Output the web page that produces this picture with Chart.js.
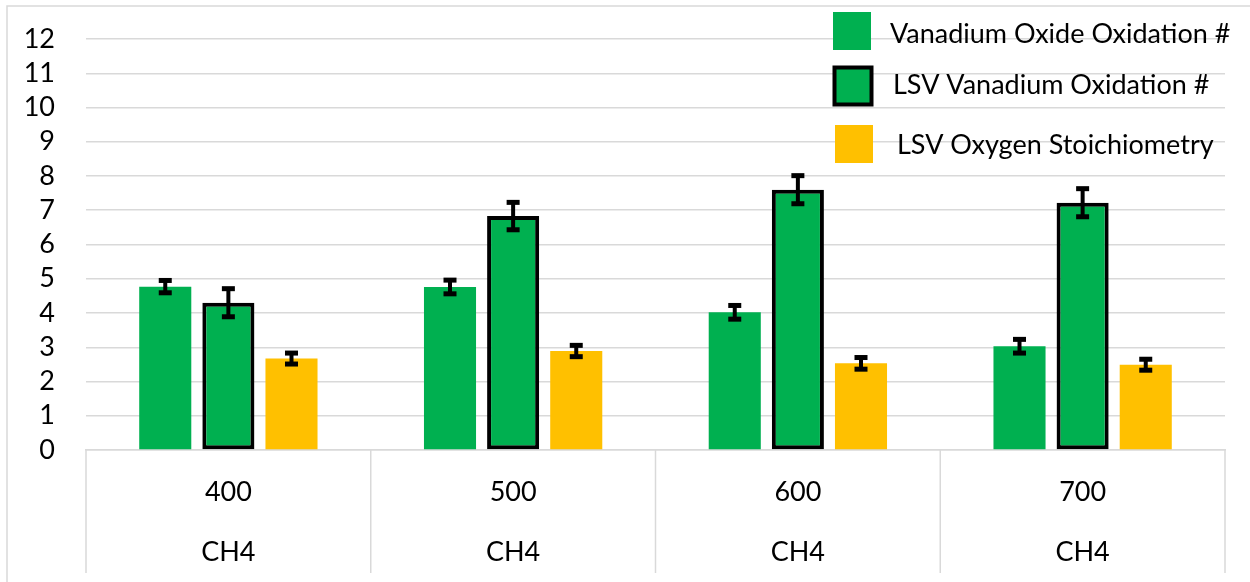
<!DOCTYPE html>
<html lang="en">
<head>
    <meta charset="UTF-8">
    <title>Vanadium oxidation</title>
    <script src="https://cdn.jsdelivr.net/npm/chart.js"></script>
    <style>
        body {
            margin: 0;
            background-color: #ffffff;
        }
        .chart-box {
            width: 1250px;
            height: 582px;
            position: relative;
        }
    </style>
</head>
<body>

    <div class="chart-box">
        <canvas id="myChart"></canvas>
    </div>

    <script>
        // Данные графика
        const temperatures = ['400', '500', '600', '700'];
        const gases = ['CH4', 'CH4', 'CH4', 'CH4'];
        const yTicks = [0, 1, 2, 3, 4, 5, 6, 7, 8, 9, 10, 11, 12];

        const seriesNames = ['Vanadium Oxide Oxidation #', 'LSV Vanadium Oxidation #', 'LSV Oxygen Stoichiometry'];
        const oxideOxidation = [4.77, 4.76, 4.02, 3.03];
        const oxideOxidationErr = [0.18, 0.20, 0.20, 0.20];
        const lsvOxidation = [4.30, 6.83, 7.60, 7.22];
        const lsvOxidationErr = [0.41, 0.40, 0.41, 0.41];
        const lsvOxygen = [2.67, 2.89, 2.53, 2.49];
        const lsvOxygenErr = [0.16, 0.165, 0.17, 0.16];

        const fontFamily = 'Lato, "Open Sans", sans-serif';
        const gridColor = '#D9D9D9';

        // Рамка, разделители категорий, планки погрешностей и легенда
        const extrasPlugin = {
            id: 'extras',
            beforeDraw(chart) {
                const ctx = chart.ctx;
                ctx.save();
                ctx.strokeStyle = gridColor;
                ctx.lineWidth = 1.5;
                ctx.beginPath();
                ctx.moveTo(7, chart.height + 5);
                ctx.lineTo(7, 6);
                ctx.lineTo(chart.width + 5, 6);
                ctx.stroke();
                ctx.restore();
            },
            afterDatasetsDraw(chart) {
                const ctx = chart.ctx;
                const y = chart.scales.y;
                ctx.save();
                ctx.fillStyle = '#000';
                ctx.strokeStyle = '#000';
                chart.data.datasets.forEach((ds, i) => {
                    const meta = chart.getDatasetMeta(i);
                    meta.data.forEach((bar, j) => {
                        const v = ds.data[j];
                        const e = ds.errors[j];
                        const top = y.getPixelForValue(v + e);
                        const bottom = y.getPixelForValue(v - e);
                        ctx.lineWidth = 4;
                        ctx.beginPath();
                        ctx.moveTo(bar.x, top);
                        ctx.lineTo(bar.x, bottom);
                        ctx.stroke();
                        ctx.fillRect(bar.x - 6.5, top - 2.5, 13, 5);
                        ctx.fillRect(bar.x - 6.5, bottom - 2.5, 13, 5);
                    });
                });
                ctx.restore();
            },
            afterDraw(chart) {
                const ctx = chart.ctx;
                const area = chart.chartArea;
                const n = chart.data.labels.length;
                const w = area.width / n;

                // вертикальные разделители под осью
                ctx.save();
                ctx.strokeStyle = gridColor;
                ctx.lineWidth = 1.5;
                for (let i = 0; i <= n; i++) {
                    const x = area.left + i * w;
                    ctx.beginPath();
                    ctx.moveTo(x, area.bottom);
                    ctx.lineTo(x, 573);
                    ctx.stroke();
                }

                // легенда
                const rows = [
                    { boxX: 833, boxY: 12, textX: 890, textY: 34 },
                    { boxX: 834, boxY: 67, textX: 893, textY: 85 },
                    { boxX: 835, boxY: 125, textX: 897, textY: 145 }
                ];
                ctx.font = '27px ' + fontFamily;
                ctx.textBaseline = 'middle';
                ctx.textAlign = 'left';
                chart.data.datasets.forEach((ds, i) => {
                    const r = rows[i];
                    ctx.fillStyle = ds.backgroundColor;
                    ctx.fillRect(r.boxX, r.boxY, 38, 38);
                    if (ds.borderWidth > 0) {
                        ctx.strokeStyle = ds.borderColor;
                        ctx.lineWidth = 4;
                        ctx.strokeRect(r.boxX + 0.5, r.boxY + 0.5, 37, 37);
                    }
                    ctx.fillStyle = '#000';
                    ctx.fillText(ds.label, r.textX, r.textY);
                });
                ctx.restore();
            }
        };

        const ctx = document.getElementById('myChart').getContext('2d');
        const myChart = new Chart(ctx, {
            type: 'bar',
            data: {
                labels: temperatures.map((t, i) => [t, gases[i]]),
                datasets: [
                    {
                        label: seriesNames[0],
                        data: oxideOxidation,
                        errors: oxideOxidationErr,
                        backgroundColor: '#00B050',
                        borderWidth: 0
                    },
                    {
                        label: seriesNames[1],
                        data: lsvOxidation,
                        errors: lsvOxidationErr,
                        backgroundColor: '#00B050',
                        borderColor: '#000000',
                        borderWidth: 4,
                        borderSkipped: false
                    },
                    {
                        label: seriesNames[2],
                        data: lsvOxygen,
                        errors: lsvOxygenErr,
                        backgroundColor: '#FFC000',
                        borderWidth: 0
                    }
                ]
            },
            options: {
                responsive: true,
                maintainAspectRatio: false,
                animation: false,
                categoryPercentage: 0.665,
                barPercentage: 0.825,
                layout: {
                    padding: { left: 0, right: 25, top: 39, bottom: 0 }
                },
                plugins: {
                    legend: { display: false },
                    tooltip: { enabled: false }
                },
                scales: {
                    x: {
                        afterFit: (s) => { s.height = 132; },
                        grid: { display: false, drawTicks: false },
                        border: { display: true, color: gridColor, width: 1.5 },
                        ticks: {
                            color: '#000',
                            padding: 12,
                            maxRotation: 0,
                            font: { family: fontFamily, size: 27, lineHeight: 60 / 27 }
                        }
                    },
                    y: {
                        min: 0,
                        max: 12,
                        afterFit: (s) => { s.width = 86; },
                        afterBuildTicks: (s) => { s.ticks = yTicks.map(v => ({ value: v })); },
                        grid: {
                            color: gridColor,
                            lineWidth: 1.5,
                            drawTicks: true,
                            tickLength: 23,
                            tickColor: 'rgba(0,0,0,0)'
                        },
                        border: { display: false },
                        ticks: {
                            color: '#000',
                            padding: 8,
                            autoSkip: false,
                            font: { family: fontFamily, size: 27 }
                        }
                    }
                }
            },
            plugins: [extrasPlugin]
        });
    </script>

</body>
</html>
